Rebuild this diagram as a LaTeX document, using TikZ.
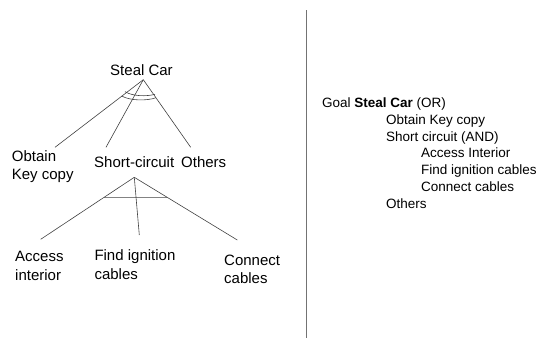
\documentclass[tikz,border=0pt]{standalone}
\usepackage{fontspec}
\setmainfont{Liberation Sans}
\usetikzlibrary{calc}
\begin{document}
\begin{tikzpicture}[x=1pt,y=-1pt,
  treeline/.style={draw=black!75, line width=0.6pt},
  sepline/.style={draw=black!55, line width=1pt},
  lbl/.style={inner sep=0pt, font=\fontsize{15}{18.5}\selectfont, align=left},
  rlbl/.style={inner sep=0pt, anchor=base west, font=\fontsize{13.5}{16.8}\selectfont}]
\useasboundingbox (0,0) rectangle (539,338);

% left tree
\node[lbl, anchor=base] (steal) at (141.5,75) {Steal Car};
\coordinate (top) at (143.3,79.7);
\node[lbl, anchor=base west] (obtain) at (11.7,179.8) {Obtain\\Key copy};
\node[lbl, anchor=base west] (short) at (94,167.3) {Short-circuit};
\node[lbl, anchor=base west] (others) at (181,167.3) {Others};
\coordinate (e1) at (55,147.3);
\coordinate (e2) at (106,147.3);
\coordinate (e3) at (190.7,147.3);
\draw[treeline] (top) -- (e1);
\draw[treeline] (top) -- (e2);
\draw[treeline] (top) -- (e3);
\draw[treeline] (125,91.7) .. controls (133,96.5) and (147,96.5) .. (155,94.3);
\draw[treeline] (121.7,96) .. controls (130,100.8) and (147,101) .. (156,97.7);

\coordinate (sub) at (134.3,177.3);
\coordinate (f1) at (40.7,239.3);
\coordinate (f2) at (139.3,235);
\coordinate (f3) at (237.3,240);
\draw[treeline] (sub) -- (f1);
\draw[treeline] (sub) -- (f2);
\draw[treeline] (sub) -- (f3);
\draw[treeline] ($(sub)!0.3226!(f1)$) -- ($(sub)!0.319!(f3)$);

\node[lbl, anchor=base west] (access) at (15,280) {Access\\interior};
\node[lbl, anchor=base west] (find) at (94.3,279.3) {Find ignition\\cables};
\node[lbl, anchor=base west] (connect) at (224,283.5) {Connect\\cables};

% separator
\coordinate (s1) at (306.3,10);
\coordinate (s2) at (306.3,338);
\draw[sepline] (s1) -- (s2);

% right text
\node[rlbl] (r1) at (322,107) {Goal \textbf{Steal Car} (OR)};
\node[rlbl] (r2) at (386,124) {Obtain Key copy};
\node[rlbl] (r3) at (386,141) {Short circuit (AND)};
\node[rlbl] (r4) at (421,157.8) {Access Interior};
\node[rlbl] (r5) at (421,174.5) {Find ignition cables};
\node[rlbl] (r6) at (421,191.2) {Connect cables};
\node[rlbl] (r7) at (386,208) {Others};
\end{tikzpicture}
\end{document}
